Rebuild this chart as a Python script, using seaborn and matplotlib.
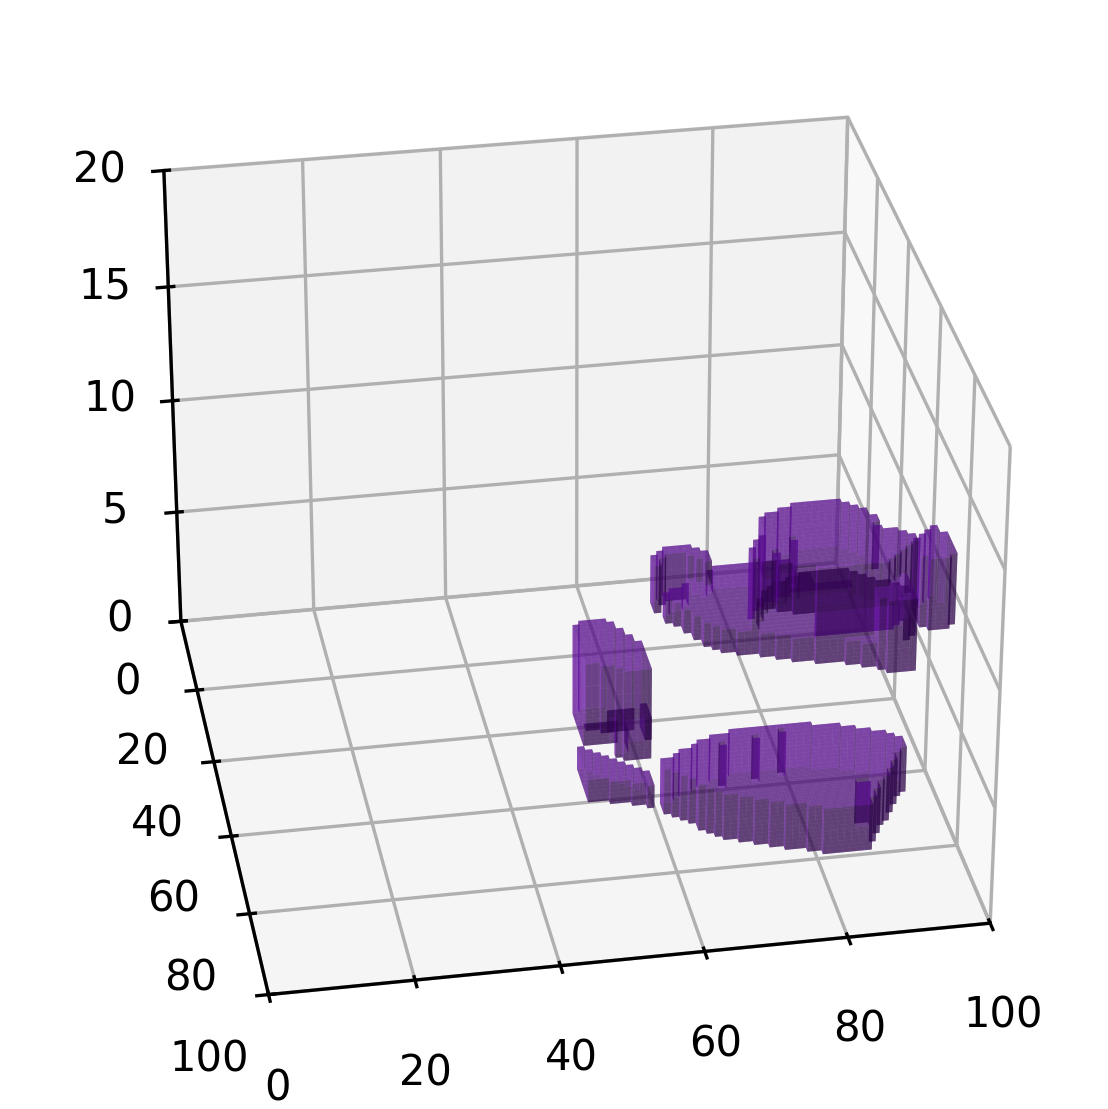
import numpy as np
import matplotlib
matplotlib.use('Agg')
import matplotlib.pyplot as plt
import seaborn as sns

# footprints: one row per y, x start and x end, plus z range
lower_y = list(range(56, 79))
lower_x0 = [72, 69, 67, 66, 64, 63, 61, 61, 61, 62, 63, 64, 65, 65, 66, 67, 68, 70, 72, 74, 76, 79, 81]
lower_x1 = [84, 88, 90, 92, 94, 95, 96, 96, 96, 95, 94, 94, 93, 93, 92, 92, 91, 90, 90, 89, 89, 88, 88]
lower_z = (0, 2)

wedge_y = [51, 52, 53, 54, 55, 56, 57, 58, 59, 60, 61, 62]
wedge_x0 = [51, 51, 51, 51, 51, 51, 51, 51, 51, 54, 57, 59]
wedge_x1 = [52, 53, 54, 55, 56, 57, 58, 59, 60, 60, 60, 60]
wedge_z = (0, 1)

column_y = list(range(35, 50))
column_x0 = [54, 53, 53, 53, 53, 53, 53, 53, 53, 53, 53, 53, 55, 57, 58]
column_x1 = [58, 59, 59, 60, 60, 61, 61, 62, 62, 62, 62, 62, 62, 62, 62]
column_z = (0, 4)

slab_y = [41, 42, 43, 44]
slab_x0 = [62, 62, 62, 62]
slab_x1 = [63, 63, 63, 63]
slab_z = (0, 1)

plate_y = list(range(67, 92))
plate_x0 = [67, 66, 65, 63, 62, 60, 59, 59, 60, 61, 61, 62, 62, 63, 63, 64, 65, 67, 70, 73, 76, 78, 81, 83, 85]
plate_x1 = [78, 78, 78, 78, 80, 80, 80, 85, 85, 85, 85, 85, 85, 85, 85, 85, 85, 85, 85, 85, 85, 85, 86, 87, 87]
plate_z = (10, 11)

body_y = list(range(76, 89))
body_x0 = [76, 74, 72, 71, 70, 70, 69, 69, 69, 70, 72, 74, 77]
body_x1 = [85, 86, 87, 88, 90, 91, 92, 92, 91, 90, 89, 88, 87]
body_z = (10, 14)

crown_y = [71, 72, 73, 74, 75, 76, 77]
crown_x0 = [77, 75, 73, 72, 72, 72, 72]
crown_x1 = [84, 85, 86, 87, 87, 88, 88]
crown_z = (12, 14)

ear_y = [74, 75, 76, 77, 78, 79, 80, 81, 82]
ear_x0 = [96, 95, 94, 93, 93, 93, 93, 93, 94]
ear_x1 = [97, 97, 98, 98, 98, 98, 98, 98, 97]
ear_z = (10, 13)

post_y = list(range(83, 93))
post_x0 = [88, 87, 87, 86, 86, 85, 85, 85, 85, 86]
post_x1 = [90, 90, 90, 90, 90, 90, 90, 90, 90, 90]
post_z = (10, 13)

ring_y = [67, 68, 69, 70, 71]
ring_x0 = [60, 59, 58, 58, 58]
ring_x1 = [64, 65, 60, 59, 59]
ring_z = (10, 12)
ring2_y = [69, 70, 71]
ring2_x0 = [63, 64, 65]
ring2_x1 = [66, 66, 66]

parts = [
    (lower_y, lower_x0, lower_x1, lower_z),
    (wedge_y, wedge_x0, wedge_x1, wedge_z),
    (column_y, column_x0, column_x1, column_z),
    (slab_y, slab_x0, slab_x1, slab_z),
    (plate_y, plate_x0, plate_x1, plate_z),
    (body_y, body_x0, body_x1, body_z),
    (crown_y, crown_x0, crown_x1, crown_z),
    (ear_y, ear_x0, ear_x1, ear_z),
    (post_y, post_x0, post_x1, post_z),
    (ring_y, ring_x0, ring_x1, ring_z),
    (ring2_y, ring2_x0, ring2_x1, ring_z),
]

# hollow pockets inside the parts, these give the darker overlaps
hollow_y = [
    [72],
    [42, 43, 44],
    [45, 46, 47],
    list(range(77, 88)),
    [59],
    [58],
    [57],
    [83],
    [80],
    [78],
]
hollow_x0 = [
    [87],
    [57, 57, 58],
    [53, 53, 53],
    [77, 75, 73, 72, 71, 71, 70, 70, 70, 71, 73],
    [70],
    [75],
    [79],
    [72],
    [75],
    [89],
]
hollow_x1 = [
    [89],
    [62, 62, 62],
    [59, 59, 59],
    [84, 85, 86, 87, 89, 90, 91, 91, 90, 89, 88],
    [71],
    [76],
    [80],
    [73],
    [76],
    [90],
]
hollow_z = [(0, 2), (0, 1), (0, 1), (11, 12), (0, 2), (0, 2), (0, 2), (12, 14), (12, 14), (12, 14)]

filled = np.zeros((100, 100, 20), dtype=bool)
for ys, x0s, x1s, zr in parts:
    for y, x0, x1 in zip(ys, x0s, x1s):
        filled[x0:x1, y, zr[0]:zr[1]] = True
for ys, x0s, x1s, zr in zip(hollow_y, hollow_x0, hollow_x1, hollow_z):
    for y, x0, x1 in zip(ys, x0s, x1s):
        filled[x0:x1, y, zr[0]:zr[1]] = False

sns.set_palette(['#6a0dad'])
color = sns.color_palette()[0] + (0.5,)

fig = plt.figure(figsize=(1108 / 300, 1109 / 300), dpi=300)
ax = fig.add_axes([0, 0, 1, 1], projection='3d')
ax.voxels(filled, facecolors=color)
ax.set_xlim(0, 100)
ax.set_ylim(100, 0)
ax.set_zlim(0, 20)
ax.set_xticks(range(0, 101, 20))
ax.set_yticks(range(0, 101, 20))
ax.set_zticks(range(0, 21, 5))
ax.view_init(elev=30, azim=-100)
ax.set_box_aspect((4, 4, 3), zoom=1.0)
fig.savefig('out.png', dpi=300)
